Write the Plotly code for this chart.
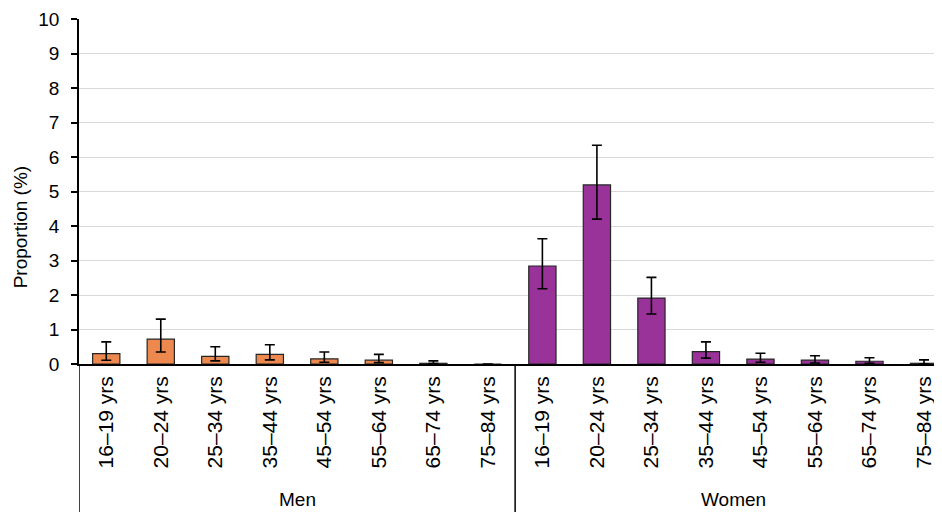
import plotly.graph_objects as go

groups = ["Men", "Women"]
age_bands = ["16–19 yrs", "20–24 yrs", "25–34 yrs", "35–44 yrs",
             "45–54 yrs", "55–64 yrs", "65–74 yrs", "75–84 yrs"]

men_values = [0.30, 0.72, 0.22, 0.28, 0.15, 0.11, 0.02, 0.0]
men_upper = [0.64, 1.30, 0.50, 0.56, 0.35, 0.28, 0.09, 0.0]
men_lower = [0.11, 0.35, 0.09, 0.12, 0.05, 0.04, 0.01, 0.0]

women_values = [2.84, 5.19, 1.91, 0.36, 0.14, 0.11, 0.08, 0.02]
women_upper = [3.63, 6.34, 2.51, 0.64, 0.31, 0.24, 0.18, 0.12]
women_lower = [2.18, 4.20, 1.45, 0.17, 0.05, 0.03, 0.02, 0.0]

y_ticks = list(range(0, 11))

FONT = "Liberation Sans, Arial, sans-serif"
ORANGE = "#ED894F"
PURPLE = "#993399"

n = len(age_bands)
fig = go.Figure()
series = [
    (men_values, men_upper, men_lower, ORANGE, 0),
    (women_values, women_upper, women_lower, PURPLE, n),
]
for vals, up, lo, col, off in series:
    xs = [off + i for i in range(n)]
    fig.add_trace(go.Bar(
        x=xs, y=vals,
        marker=dict(color=col, line=dict(color="#262626", width=1.2)),
        error_y=dict(type="data", symmetric=False,
                     array=[u - v for u, v in zip(up, vals)],
                     arrayminus=[v - l for v, l in zip(vals, lo)],
                     color="black", thickness=1.6, width=5),
        showlegend=False,
    ))

tickvals = list(range(2 * n))
ticktext = age_bands + age_bands

# page body has an 8px default margin, so the figure is sized to fit the window
fig.update_layout(
    width=934, height=504,
    margin=dict(l=71, r=0, t=11, b=148),
    paper_bgcolor="white", plot_bgcolor="white",
    bargap=0.5,
    font=dict(family=FONT, color="black"),
    xaxis=dict(
        range=[-0.5, 2 * n - 0.5 - 0.17],
        tickmode="array", tickvals=tickvals, ticktext=ticktext,
        tickangle=-90, tickfont=dict(size=21, family=FONT, color="black"),
        showline=True, linecolor="black", linewidth=1.5,
        showgrid=False, zeroline=False, ticks="", ticklabelstandoff=2,
        automargin=False,
    ),
    yaxis=dict(
        range=[0, 10], tickmode="array", tickvals=y_ticks,
        tickfont=dict(size=19, family=FONT, color="black"),
        showline=True, linecolor="black", linewidth=1.5,
        ticks="outside", ticklen=6, tickcolor="black", tickwidth=1.5,
        showgrid=True, gridcolor="#d9d9d9", gridwidth=1,
        zeroline=False, ticklabelstandoff=8, automargin=False,
    ),
)

# category group separators (extend below the axis like multi-level labels)
bottom = -0.43
for xv in [-0.5, n - 0.5]:
    fig.add_shape(type="line", xref="x", yref="paper",
                  x0=xv, x1=xv, y0=0, y1=bottom,
                  line=dict(color="black", width=1.5))

for gi, g in enumerate(groups):
    fig.add_annotation(x=gi * n + (n - 1) / 2, y=-0.394, xref="x", yref="paper",
                       text=g, showarrow=False, xanchor="center", yanchor="middle",
                       font=dict(size=19, family=FONT, color="black"))

fig.add_annotation(x=-0.068, y=0.397, xref="paper", yref="paper",
                   text="Proportion (%)", textangle=-90, showarrow=False,
                   xanchor="center", yanchor="middle",
                   font=dict(size=19, family=FONT, color="black"))

fig.write_html("out.html")
